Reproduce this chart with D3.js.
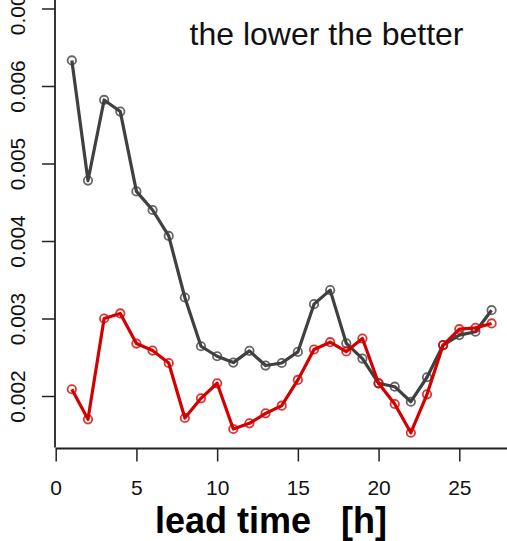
<!DOCTYPE html>
<html>
<head>
<meta charset="utf-8">
<script src="https://cdn.jsdelivr.net/npm/d3@7"></script>
<style>
  html, body { margin: 0; padding: 0; background: #fff; }
  svg { display: block; font-family: "Liberation Sans", Arial, Helvetica, sans-serif; }
</style>
</head>
<body>
<svg id="chart" width="507" height="541"></svg>
<script>
const leadTime = [1,2,3,4,5,6,7,8,9,10,11,12,13,14,15,16,17,18,19,20,21,22,23,24,25,26,27];
const grayValues = [0.00633,0.00478,0.00582,0.00567,0.00464,0.00440,0.004065,0.003271,0.002642,0.002513,0.002431,0.002582,0.002393,0.002426,0.002569,0.003185,0.003366,0.002680,0.002483,0.002164,0.002120,0.001926,0.002242,0.002657,0.002786,0.002829,0.003107];
const redValues = [0.002087,0.001699,0.003000,0.003065,0.002677,0.002586,0.002426,0.001716,0.001970,0.002164,0.001574,0.001647,0.001776,0.001875,0.002207,0.002600,0.002694,0.002574,0.002742,0.002164,0.001897,0.001526,0.002022,0.002657,0.002862,0.002879,0.002936];
const xTicks = [0,5,10,15,20,25];
const yTicks = [0.002,0.003,0.004,0.005,0.006,0.007];
const annotation = "the lower the better";
const xTitle = "lead time   [h]";

const svg = d3.select("#chart");
const W = 507, H = 541;

const x = d3.scaleLinear().domain([0, 25]).range([55.7, 459.3]);
const y = d3.scaleLinear().domain([0.002, 0.006]).range([396, 86]);

const axisX = 55;
const axisY = 448.5;

// Y axis
const gy = svg.append("g").attr("transform", `translate(${axisX},0)`)
  .call(d3.axisLeft(y).tickValues(yTicks).tickSize(13).tickFormat(d3.format(".3f")));
gy.select(".domain").remove();
gy.selectAll(".tick line").attr("stroke", "#222").attr("stroke-width", 1.5);
gy.selectAll(".tick text")
  .attr("transform", "rotate(-90)")
  .attr("x", 0).attr("y", -30).attr("dy", 0)
  .attr("text-anchor", "middle")
  .attr("fill", "#111")
  .style("font-size", "21px")
  .style("font-family", "'Liberation Sans', Arial, sans-serif");
svg.append("line")
  .attr("x1", axisX).attr("x2", axisX)
  .attr("y1", 0).attr("y2", axisY - 1)
  .attr("stroke", "#222").attr("stroke-width", 1.8);

// X axis
const gx = svg.append("g").attr("transform", `translate(0,${axisY})`)
  .call(d3.axisBottom(x).tickValues(xTicks).tickSize(13).tickFormat(d3.format("d")));
gx.select(".domain").remove();
gx.selectAll(".tick line").attr("stroke", "#222").attr("stroke-width", 1.5);
gx.selectAll(".tick text")
  .attr("y", 46.5).attr("dy", 0)
  .attr("fill", "#111")
  .style("font-size", "21px")
  .style("font-family", "'Liberation Sans', Arial, sans-serif");
svg.append("line")
  .attr("x1", x(0)).attr("x2", W)
  .attr("y1", axisY).attr("y2", axisY)
  .attr("stroke", "#222").attr("stroke-width", 1.8);

// Series
const series = [
  { values: grayValues, color: "#404040" },
  { values: redValues, color: "#d40000" }
];
const line = d3.line().x(d => x(d[0])).y(d => y(d[1]));

series.forEach(s => {
  const pts = leadTime.map((t, i) => [t, s.values[i]]);
  svg.append("path")
    .datum(pts)
    .attr("d", line)
    .attr("fill", "none")
    .attr("stroke", s.color)
    .attr("stroke-width", 3.2)
    .attr("stroke-linejoin", "round");
  svg.append("g").selectAll("circle")
    .data(pts)
    .join("circle")
    .attr("cx", d => x(d[0]))
    .attr("cy", d => y(d[1]))
    .attr("r", 4.2)
    .attr("fill", "none")
    .attr("stroke", s.color)
    .attr("stroke-opacity", 0.8)
    .attr("stroke-width", 1.8);
});

// Annotation
svg.append("text")
  .attr("x", 326.5).attr("y", 45)
  .attr("text-anchor", "middle")
  .attr("fill", "#111")
  .style("font-size", "32px")
  .text(annotation);

// X title
svg.append("text")
  .attr("x", 271).attr("y", 533)
  .attr("text-anchor", "middle")
  .attr("fill", "#000")
  .style("font-size", "36px")
  .style("font-weight", "bold")
  .attr("xml:space", "preserve")
  .style("white-space", "pre")
  .text(xTitle);
</script>
</body>
</html>
